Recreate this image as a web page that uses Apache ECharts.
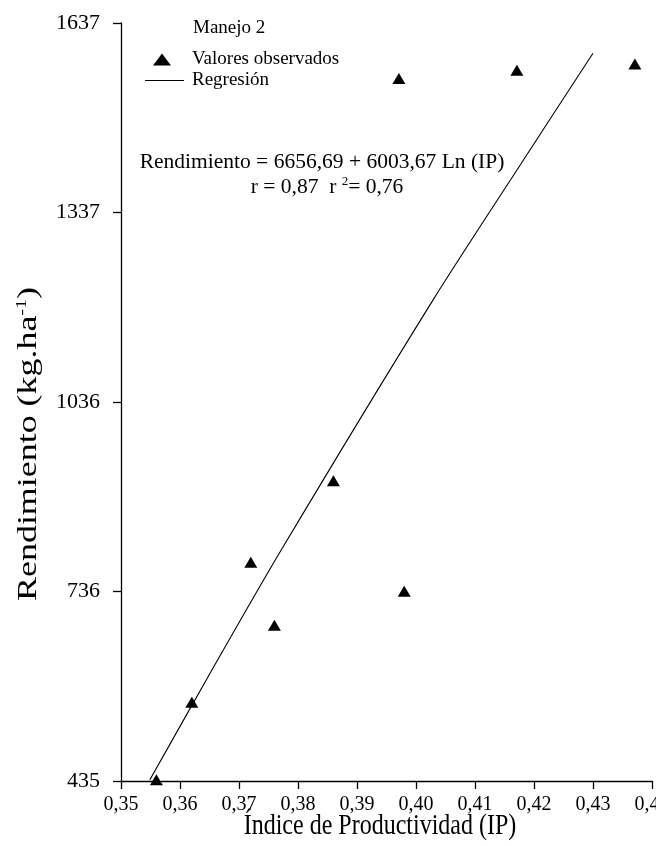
<!DOCTYPE html>
<html>
<head>
<meta charset="utf-8">
<script src="https://cdn.jsdelivr.net/npm/echarts@6/dist/echarts.min.js"></script>
<style>
    html, body {
        margin: 0;
        padding: 0;
        background: #fff;
    }

    #chart {
        width: 656px;
        height: 846px;
    }
</style>
</head>
<body>
<div id="chart"></div>
<script>
// valores observados (IP, rendimiento)
const ipObs = [0.3560, 0.3620, 0.3720, 0.3760, 0.3860, 0.3971, 0.3980, 0.4171, 0.4371]
const rendObs = [437, 560, 782, 682, 911, 1549, 736, 1562, 1572]

// curva de regresión
const ipReg = [0.3549, 0.3645, 0.3772, 0.4029, 0.4183, 0.4300]
const rendReg = [437, 596, 802, 1198, 1421, 1589]

const yTickLabels = ['435', '736', '1036', '1337', '1637']

const serif = "'Liberation Serif', 'Times New Roman', serif"

const chart = echarts.init(document.getElementById('chart'), null, { renderer: 'canvas' })

const yMin = 435
const yMax = 1637
const yStep = (yMax - yMin) / (yTickLabels.length - 1)

let option = {
    animation: false,
    backgroundColor: '#fff',
    grid: {
        left: 121,
        right: 4,
        top: 23,
        bottom: 65,
        containLabel: false,
        outerBoundsMode: 'none'
    },
    legend: [
        {
            data: ['Valores observados'],
            left: 153,
            top: 50,
            padding: 0,
            itemWidth: 18,
            itemHeight: 12,
            selectedMode: false,
            textStyle: { fontFamily: serif, fontSize: 19, color: '#000', padding: [0, 0, 0, 16] }
        },
        {
            data: [{ name: 'Regresión', icon: 'path://M0,0L40,0L40,1L0,1Z' }],
            left: 145,
            top: 71,
            padding: 0,
            itemWidth: 39,
            itemHeight: 1.3,
            selectedMode: false,
            itemStyle: { color: '#000' },
            textStyle: { fontFamily: serif, fontSize: 19, color: '#000', padding: [0, 0, 0, 3] }
        }
    ],
    xAxis: {
        type: 'value',
        min: 0.35,
        max: 0.44,
        interval: 0.01,
        axisLine: { lineStyle: { color: '#000', width: 1.3 } },
        axisTick: { show: true, length: 8, lineStyle: { color: '#000', width: 1.3 } },
        splitLine: { show: false },
        axisLabel: {
            fontFamily: serif,
            fontSize: 20,
            color: '#000',
            margin: 14,
            formatter: v => v.toFixed(2).replace('.', ',')
        }
    },
    yAxis: {
        type: 'value',
        min: yMin,
        max: yMax,
        interval: yStep,
        axisLine: { show: true, lineStyle: { color: '#000', width: 1.3 } },
        axisTick: { show: true, length: 8, lineStyle: { color: '#000', width: 1.3 } },
        splitLine: { show: false },
        axisLabel: {
            fontFamily: serif,
            fontSize: 22,
            color: '#000',
            margin: 21,
            formatter: v => yTickLabels[Math.round((v - yMin) / yStep)]
        }
    },
    graphic: [
        {
            type: 'text',
            x: 193,
            y: 28,
            style: { text: 'Manejo 2', font: '19px ' + serif, fill: '#000', align: 'left', verticalAlign: 'middle' }
        },
        {
            type: 'text',
            x: 322,
            y: 162,
            style: {
                text: 'Rendimiento = 6656,69 + 6003,67 Ln (IP)',
                font: '21.5px ' + serif, fill: '#000', align: 'center', verticalAlign: 'middle'
            }
        },
        {
            type: 'text',
            x: 327,
            y: 187,
            style: {
                text: '{n|r = 0,87  r }{s|2}{n|= 0,76}',
                align: 'center', verticalAlign: 'middle',
                rich: {
                    n: { fontFamily: serif, fontSize: 21.5, color: '#000', lineHeight: 24 },
                    s: { fontFamily: serif, fontSize: 13, color: '#000', verticalAlign: 'top', lineHeight: 14 }
                }
            }
        },
        {
            type: 'text',
            x: 380,
            y: 826,
            scaleY: 1.25,
            style: {
                text: 'Índice de Productividad (IP)',
                font: '24px ' + serif, fill: '#000', align: 'center', verticalAlign: 'middle'
            }
        },
        {
            type: 'text',
            x: 29,
            y: 444,
            rotation: Math.PI / 2,
            scaleX: 1.33,
            style: {
                text: '{n|Rendimiento (kg.ha}{s|-1}{n|)}',
                align: 'center', verticalAlign: 'middle',
                rich: {
                    n: { fontFamily: serif, fontSize: 27, color: '#000', lineHeight: 28 },
                    s: { fontFamily: serif, fontSize: 15, color: '#000', verticalAlign: 'top', lineHeight: 15 }
                }
            }
        }
    ],
    series: [
        {
            name: 'Valores observados',
            type: 'scatter',
            symbol: 'triangle',
            symbolSize: [13, 11],
            itemStyle: { color: '#000', opacity: 1 },
            data: ipObs.map((x, i) => [x, rendObs[i]]),
            z: 3
        },
        {
            name: 'Regresión',
            type: 'line',
            symbol: 'none',
            smooth: 0.3,
            itemStyle: { color: '#000' },
            lineStyle: { color: '#000', width: 1.1 },
            data: ipReg.map((x, i) => [x, rendReg[i]]),
            z: 2
        }
    ]
}

chart.setOption(option)
</script>
</body>
</html>
